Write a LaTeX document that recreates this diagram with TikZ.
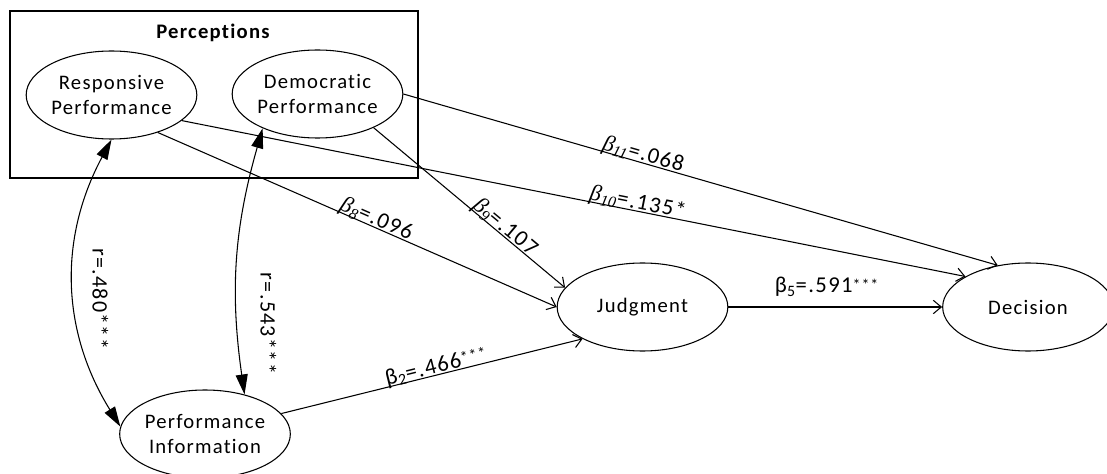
\documentclass[tikz,border=0pt]{standalone}
\usepackage{fontspec}
\setmainfont{Carlito}[LetterSpace=6, Ligatures=NoCommon]
\newfontfamily\grkserif{Liberation Serif}
\usetikzlibrary{shapes,arrows.meta}

% italic serif beta with subscript
\newcommand{\bet}[1]{{\grkserif\itshape β\textsubscript{#1}}}
\newcommand{\smallstars}{\raisebox{2pt}{\fontsize{12}{12}\selectfont ***}}

\begin{document}
\begin{tikzpicture}[
    x=0.75pt, y=-0.75pt,
    latent/.style={ellipse, draw, line width=0.8pt, minimum width=128pt,
        minimum height=66pt, inner sep=0pt, align=center,
        font=\fontsize{15.5}{18.75}\selectfont},
    pad/.style={-{Straight Barb[length=6pt,width=10pt]}, line width=0.8pt},
    korr/.style={{Triangle[length=15pt,width=9pt]}-{Triangle[length=15pt,width=9pt]},
        line width=0.8pt},
    kant/.style={sloped, anchor=base, inner sep=1pt, yshift=1.5pt,
        font=\fontsize{17}{20}\selectfont},
    rkant/.style={rotate=-90, anchor=south, font=\fontsize{16.5}{20}\selectfont}
    ]
\useasboundingbox (0,0) rectangle (1107,474);

% Perceptions block
\draw[line width=0.8pt] (10,11) rectangle (418,178);
\node[font=\fontsize{15.5}{18}\selectfont\bfseries] (perc) at (213,33) {Perceptions};
\node[latent] (resp) at (111.5,95) {Responsive\\Performance};
\node[latent] (demo) at (317.5,94) {Democratic\\Performance};

% other constructs
\node[latent] (info) at (205,434) {Performance\\Information};
\node[latent] (judg) at (642.5,307) {Judgment};
\node[latent] (deci) at (1028,307) {Decision};

% paths
\draw[pad] (resp.-39) -- (judg.west) node[kant, pos=0.54] {\bet{8}=.096};
\draw[pad] (demo.-31) -- (judg.166) node[kant, pos=0.66] {\bet{9}=.107};
\draw[pad] (resp.-20) -- (deci.154) node[kant, pos=0.58] {\bet{10}=.135*};
\draw[pad] (demo.east) -- (deci.126) node[kant, pos=0.40] {\bet{11}=.068};
\draw[pad] (info.15) -- (judg.208) node[kant, pos=0.52] {β\textsubscript{2}=.466\smallstars};
\draw[pad] (judg) -- (deci) node[pos=0.46, above=4pt, font=\fontsize{17}{20}\selectfont] {β\textsubscript{5}=.591\smallstars};

% correlations
\draw[korr] (resp.south) to[bend right=30]
    node[rkant, pos=0.55, inner sep=13pt] {r=.480***} (info.175);
\draw[korr] (demo.212) to[bend right=12]
    node[rkant, pos=0.75, inner sep=17pt] {r=.543***} (info.45);
\end{tikzpicture}
\end{document}
